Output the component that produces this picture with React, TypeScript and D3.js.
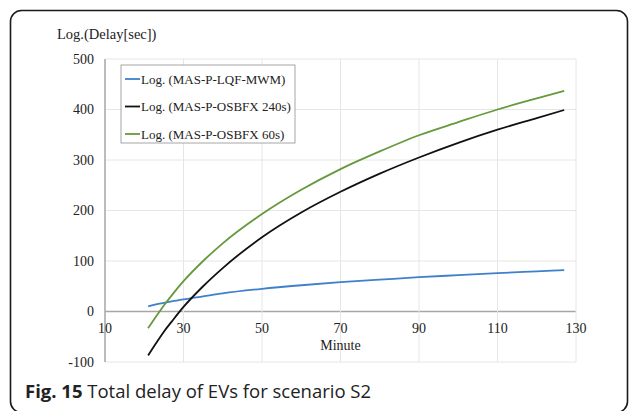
import React from 'react';
import * as d3 from 'd3';

// values
const minutes = [21, 23, 25, 27, 30, 35, 40, 50, 60, 70, 80, 90, 100, 110, 120, 127];
const lqfMwm = [10, 14, 17, 20, 24, 30, 36, 45, 52, 58, 63, 68, 72, 76, 79.5, 82];
const osbfx240 = [-87, -63, -40, -20, 9, 50, 86, 147, 196, 237, 273, 305, 334, 360, 383, 399];
const osbfx60 = [-33, -10, 12, 32, 60, 100, 135, 193, 241, 282, 317, 349, 375, 400, 422, 437];

const xTicks = [10, 30, 50, 70, 90, 110, 130];
const yTicks = [-100, 0, 100, 200, 300, 400, 500];

const series = [
    { name: 'Log. (MAS-P-LQF-MWM)', values: lqfMwm, color: '#3f7fcb' },
    { name: 'Log. (MAS-P-OSBFX 240s)', values: osbfx240, color: '#111111' },
    { name: 'Log. (MAS-P-OSBFX 60s)', values: osbfx60, color: '#66993c' },
];

const serif = '"Liberation Serif", "Times New Roman", serif';

export default function App() {
    const width = 629;
    const height = 411;

    const x = d3.scaleLinear().domain([10, 130]).range([105, 576]);
    const y = d3.scaleLinear().domain([-100, 500]).range([362, 59]);

    const line = d3.line<number>()
        .x((d, i) => x(minutes[i]))
        .y(d => y(d))
        .curve(d3.curveMonotoneX);

    return (
        <svg width={width} height={height} style={{ position: 'absolute', left: 0, top: 0, background: '#fff' }}>
            {/* figure frame */}
            <rect x={10.5} y={10.5} width={617} height={402} rx={11} ry={11}
                fill="none" stroke="#1a1a1a" strokeWidth={1.6} />

            {/* grid */}
            {yTicks.map(t => (
                <line key={'gy' + t} x1={x(10)} x2={x(130)} y1={y(t)} y2={y(t)}
                    stroke={t === 0 ? '#a6a6a6' : '#e6e6e6'} strokeWidth={t === 0 ? 1.5 : 1} />
            ))}
            {xTicks.map(t => (
                <line key={'gx' + t} x1={x(t)} x2={x(t)} y1={y(-100)} y2={y(500)}
                    stroke={t === 10 ? '#a6a6a6' : '#e6e6e6'} strokeWidth={t === 10 ? 1.5 : 1} />
            ))}

            {/* tick labels */}
            {yTicks.map(t => (
                <text key={'ly' + t} x={94} y={y(t)} dy="0.35em" textAnchor="end"
                    fontFamily={serif} fontSize={14} fill="#222">{t}</text>
            ))}
            {xTicks.map(t => (
                <text key={'lx' + t} x={x(t)} y={333} textAnchor="middle"
                    fontFamily={serif} fontSize={14} fill="#222">{t}</text>
            ))}
            <text x={(x(10) + x(130)) / 2} y={350} textAnchor="middle"
                fontFamily={serif} fontSize={14} fill="#222">Minute</text>
            <text x={57} y={39} fontFamily={serif} fontSize={14.5} fill="#222">Log.(Delay[sec])</text>

            {/* trend lines */}
            {series.map(s => (
                <path key={s.name} d={line(s.values) || ''} fill="none"
                    stroke={s.color} strokeWidth={1.8} />
            ))}

            {/* legend */}
            <rect x={121} y={65} width={174} height={78} fill="#fff" stroke="#a6a6a6" strokeWidth={1} />
            {series.map((s, i) => (
                <g key={'lg' + s.name} transform={`translate(125, ${79 + i * 27.5})`}>
                    <line x1={0} x2={15} y1={0} y2={0} stroke={s.color} strokeWidth={1.8} />
                    <text x={16} y={0} dy="0.35em" fontFamily={serif} fontSize={13} fill="#222">{s.name}</text>
                </g>
            ))}

            {/* caption */}
            <text x={25} y={398} fontFamily='"Open Sans", "Noto Sans", sans-serif' fontSize={18.5} fill="#222">
                <tspan fontWeight="bold">Fig. 15</tspan>
                <tspan> Total delay of EVs for scenario S2</tspan>
            </text>
        </svg>
    );
}
